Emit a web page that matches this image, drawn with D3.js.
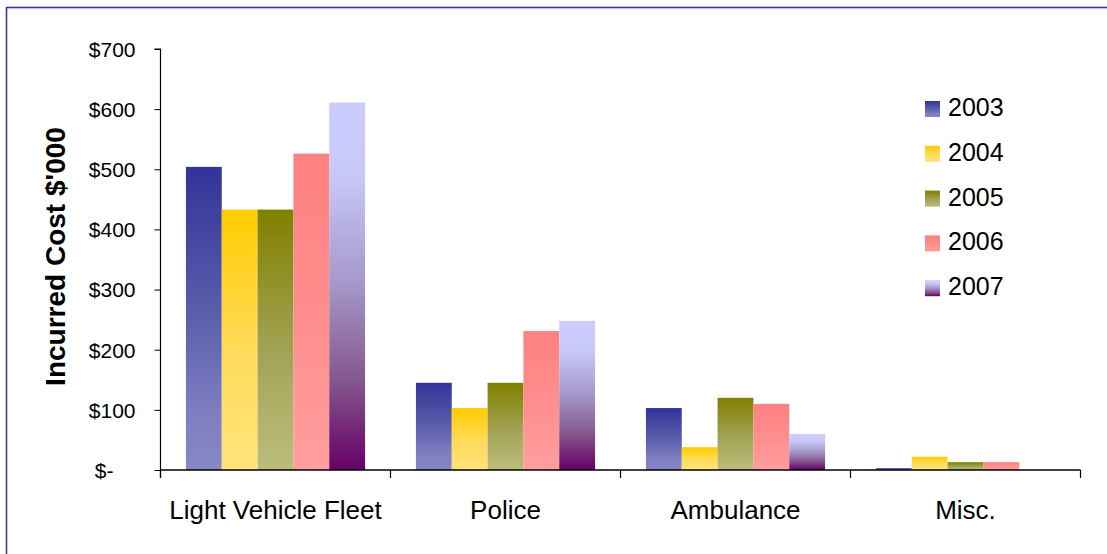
<!DOCTYPE html>
<html>
<head>
<meta charset="utf-8">
<script src="https://cdn.jsdelivr.net/npm/d3@7"></script>
<style>
  html, body { margin: 0; padding: 0; background: #fff; }
  svg { display: block; font-family: "Liberation Sans", Arial, sans-serif; }
</style>
</head>
<body>
<svg id="chart" width="1107" height="554"></svg>
<script>
// Incurred cost by fleet category, $'000
const categories = ["Light Vehicle Fleet", "Police", "Ambulance", "Misc."];
const years = ["2003", "2004", "2005", "2006", "2007"];
const values2003 = [504, 145, 103, 3];
const values2004 = [433, 103, 38, 22];
const values2005 = [433, 145, 120, 13];
const values2006 = [526, 231, 110, 13];
const values2007 = [611, 248, 60, 0];
const yTicks = [0, 100, 200, 300, 400, 500, 600, 700];
const yTitle = "Incurred Cost $'000";

const seriesValues = [values2003, values2004, values2005, values2006, values2007];

// vertical gradient stops for each year's bars (top -> bottom)
const gradientStops = [
  [[0, "#333399"], [0.5, "#5B5FAB"], [0.8, "#7D7DC0"], [1, "#8787C6"]],
  [[0, "#FFCC00"], [0.55, "#FFDB5A"], [1, "#FFE47C"]],
  [[0, "#808000"], [0.55, "#A3A356"], [1, "#BDBD7C"]],
  [[0, "#FF8080"], [0.6, "#FF9090"], [1, "#FF9E9E"]],
  [[0, "#CCCCFF"], [0.2, "#C8C8F8"], [0.5, "#A496C8"], [0.75, "#85598F"], [1, "#660066"]]
];

const svg = d3.select("#chart");
const defs = svg.append("defs");
gradientStops.forEach((stops, i) => {
  const g = defs.append("linearGradient")
    .attr("id", "grad" + i)
    .attr("x1", 0).attr("y1", 0).attr("x2", 0).attr("y2", 1);
  stops.forEach(([o, c]) => g.append("stop").attr("offset", o).attr("stop-color", c));
});

// chart frame
svg.append("rect")
  .attr("x", 6.5).attr("y", 7.5)
  .attr("width", 1120).attr("height", 560)
  .attr("fill", "none")
  .attr("stroke", "#3B3B9B")
  .attr("stroke-width", 1.6);

const plot = { left: 160.5, right: 1080.5, top: 49, bottom: 470 };

const x = d3.scaleBand()
  .domain(categories)
  .range([plot.left, plot.right])
  .paddingInner(0).paddingOuter(0);

const inner = d3.scaleBand()
  .domain(years)
  .range([0, x.bandwidth()])
  .paddingInner(0)
  .paddingOuter(0.71);

const y = d3.scaleLinear()
  .domain([0, 700])
  .range([plot.bottom, plot.top]);

// bars
const groups = svg.append("g").selectAll("g")
  .data(years)
  .join("g")
  .attr("fill", (d, i) => `url(#grad${i})`);

groups.selectAll("rect")
  .data((yr, si) => categories.map((c, ci) => ({ c, yr, v: seriesValues[si][ci] })))
  .join("rect")
  .attr("x", d => x(d.c) + inner(d.yr))
  .attr("width", inner.bandwidth())
  .attr("y", d => y(d.v))
  .attr("height", d => y(0) - y(d.v));

// y axis
const yAxis = d3.axisLeft(y)
  .tickValues(yTicks)
  .tickSize(6)
  .tickPadding(19)
  .tickFormat(d => d === 0 ? "$-" : "$" + d);

const yg = svg.append("g")
  .attr("transform", `translate(${plot.left},0)`)
  .call(yAxis);
yg.select(".domain").attr("stroke", "#000").attr("stroke-width", 1.2)
  .attr("d", `M-6,${plot.top}H0V${plot.bottom + 8}`);
yg.selectAll(".tick line").attr("stroke", "#000");
yg.selectAll(".tick text")
  .attr("font-size", 21)
  .attr("font-family", "'Liberation Sans', Arial, sans-serif")
  .attr("fill", "#000")
  .attr("dy", "0.35em")
  .filter(d => d === 0)
  .attr("x", -47);

// x axis
const xAxis = d3.axisBottom(x).tickSize(0).tickPadding(0);
const xg = svg.append("g")
  .attr("transform", `translate(0,${plot.bottom})`)
  .call(xAxis);
xg.select(".domain").attr("stroke", "#000").attr("stroke-width", 1.4)
  .attr("d", `M${plot.left},0H${plot.right}`);
xg.selectAll(".tick text")
  .attr("font-size", 26)
  .attr("font-family", "'Liberation Sans', Arial, sans-serif")
  .attr("fill", "#000")
  .attr("y", 49)
  .attr("dy", 0);

// category separators
const sepPositions = categories.map(c => x(c)).concat([plot.right]);
svg.append("g").selectAll("line")
  .data(sepPositions)
  .join("line")
  .attr("x1", d => d).attr("x2", d => d)
  .attr("y1", plot.bottom).attr("y2", plot.bottom + 8)
  .attr("stroke", "#000")
  .attr("stroke-width", 1.2);

// y axis title
svg.append("text")
  .attr("transform", `translate(65,${(130 + 383) / 2}) rotate(-90)`)
  .attr("text-anchor", "middle")
  .attr("font-size", 28)
  .attr("font-weight", "bold")
  .attr("fill", "#000")
  .text(yTitle);

// legend
const legend = svg.append("g").attr("transform", "translate(925,101)");
const rows = legend.selectAll("g")
  .data(years)
  .join("g")
  .attr("transform", (d, i) => `translate(0,${i * 44.8})`);
rows.append("rect")
  .attr("width", 15).attr("height", 16)
  .attr("fill", (d, i) => `url(#grad${i})`);
rows.append("text")
  .attr("x", 23).attr("y", 15)
  .attr("font-size", 25)
  .attr("fill", "#000")
  .text(d => d);
</script>
</body>
</html>
